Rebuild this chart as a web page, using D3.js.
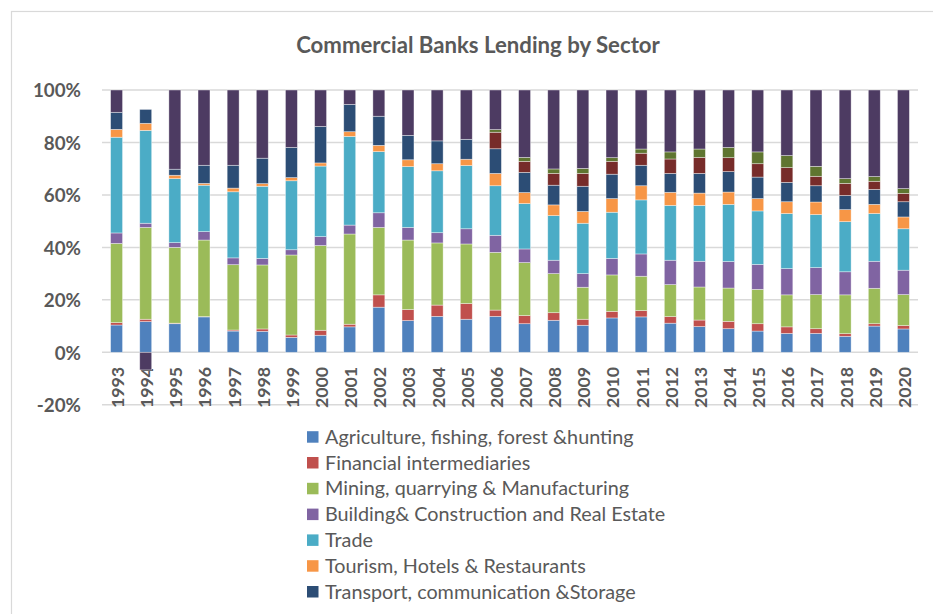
<!DOCTYPE html>
<html>
<head>
<meta charset="utf-8">
<script src="https://cdn.jsdelivr.net/npm/d3@7"></script>
<style>
  html, body { margin: 0; padding: 0; background: #fff; overflow: hidden; }
  svg { display: block; font-family: Lato, "Open Sans", sans-serif; }
</style>
</head>
<body>
<svg id="chart" width="933" height="614"></svg>
<script>
// Commercial bank lending shares by sector, percent of total, 1993-2020
const years = ["1993","1994","1995","1996","1997","1998","1999","2000","2001","2002",
  "2003","2004","2005","2006","2007","2008","2009","2010","2011","2012",
  "2013","2014","2015","2016","2017","2018","2019","2020"];

const agriculture = [10.4,11.7,10.9,13.5,8.1,8.0,5.7,6.5,9.7,17.2,12.1,13.7,12.6,13.7,10.9,12.2,10.3,13.1,13.5,11.1,9.8,9.0,8.1,7.2,7.2,6.1,10.0,8.9];
const financial   = [0.9,0.9,0.2,0.1,0.4,0.9,0.9,1.9,1.0,4.7,4.2,4.3,6.0,2.4,3.1,2.9,2.3,2.5,2.4,2.5,2.5,2.8,2.8,2.5,1.8,1.0,0.9,1.3];
const mining      = [30.2,35.0,28.9,29.2,24.9,24.4,30.5,32.3,34.4,25.7,26.5,23.7,22.7,22.0,20.2,14.9,12.2,13.9,13.1,12.2,12.6,12.7,13.1,12.2,13.0,14.8,13.5,11.8];
const building    = [4.0,1.6,1.8,3.2,2.6,2.5,2.0,3.4,3.4,5.6,4.8,3.9,5.8,6.5,5.2,5.1,5.2,6.3,8.5,9.3,9.8,10.1,9.5,10.0,10.3,8.8,10.3,9.3];
const trade       = [36.5,35.4,24.4,17.7,25.2,27.5,26.3,26.9,33.8,23.3,23.2,23.6,24.1,18.9,17.3,17.0,19.2,17.6,20.6,20.9,21.3,21.8,20.4,21.0,20.2,19.1,18.2,15.8];
const tourism     = [3.0,2.7,1.3,0.7,1.4,1.0,1.2,1.2,1.8,2.4,2.6,2.7,2.4,4.7,4.2,4.1,4.5,5.2,5.4,5.0,4.7,4.7,4.7,4.5,4.8,4.6,3.5,4.5];
const transport   = [6.5,5.3,2.3,6.9,8.7,9.7,11.5,13.9,10.4,11.1,9.3,8.7,7.6,9.4,7.7,7.5,9.6,9.3,7.8,7.2,7.5,7.8,8.2,7.4,6.2,5.4,5.7,5.8];
const electricity = [0,0,0,0,0,0,0,0,0,0,0,0,0,6.3,4.2,4.5,4.9,4.9,4.6,5.5,6.1,5.3,5.1,5.6,3.6,4.6,3.1,3.2];
const services    = [0,0,0,0,0,0,0,0,0,0,0,0,0,1.0,1.5,1.7,1.9,1.4,1.6,2.7,3.2,3.9,4.5,4.6,3.8,1.8,1.8,1.8];
const others      = [8.5,-6.7,30.2,28.7,28.7,26.0,21.9,13.9,5.5,10.0,17.3,19.4,18.8,15.1,25.7,30.1,29.9,25.8,22.5,23.6,22.5,21.9,23.6,25.0,29.1,33.8,33.0,37.6];

const seriesNames = [
  "Agriculture, fishing, forest &hunting",
  "Financial intermediaries",
  "Mining, quarrying & Manufacturing",
  "Building& Construction and Real Estate",
  "Trade",
  "Tourism, Hotels & Restaurants",
  "Transport, communication &Storage",
  "Electricity, gas & water",
  "Other services",
  "Personal & other loans"
];
const seriesValues = [agriculture, financial, mining, building, trade, tourism, transport, electricity, services, others];
const seriesColors = ["#4F81BD","#C0504D","#9BBB59","#8064A2","#4BACC6","#F79646","#2C4D75","#772C2A","#5F7530","#4D3B62"];

const yTicks = [-20, 0, 20, 40, 60, 80, 100];

const W = 933, H = 614;
const svg = d3.select("#chart");
const textColor = "#595959";
const gridColor = "#D9D9D9";

// chart area frame
svg.append("rect")
  .attr("x", 11.5).attr("y", 11.5)
  .attr("width", 960).attr("height", 640)
  .attr("fill", "none").attr("stroke", gridColor).attr("stroke-width", 1.2);

const plot = { left: 102, right: 918, top: 90, zero: 352.3 };

const y = d3.scaleLinear().domain([0, 100]).range([plot.zero, plot.top]);
const x = d3.scaleBand().domain(years).range([plot.left, plot.right])
  .paddingInner(0.59).paddingOuter(0.295);

// table of rows for d3.stack
const table = years.map((yr, i) => {
  const row = { year: yr };
  seriesNames.forEach((name, k) => { row[name] = seriesValues[k][i]; });
  return row;
});

const stacked = d3.stack().keys(seriesNames)
  .order(d3.stackOrderNone)
  .offset(d3.stackOffsetDiverging)(table);

// title
svg.append("text")
  .attr("x", 478).attr("y", 52.5)
  .attr("text-anchor", "middle")
  .attr("fill", textColor)
  .attr("font-size", 22.2).attr("font-weight", 700)
  .text("Commercial Banks Lending by Sector");

// gridlines
svg.append("g").selectAll("line")
  .data(yTicks).join("line")
  .attr("x1", plot.left).attr("x2", plot.right)
  .attr("y1", d => y(d)).attr("y2", d => y(d))
  .attr("stroke", gridColor).attr("stroke-width", 1.5);

// y axis labels
const yAxis = d3.axisLeft(y).tickValues(yTicks).tickSize(0).tickPadding(0)
  .tickFormat(d => d + "%");
svg.append("g")
  .attr("transform", `translate(81,0)`)
  .call(yAxis)
  .call(g => g.select(".domain").remove())
  .call(g => g.selectAll("text")
    .attr("fill", textColor)
    .attr("font-family", "Lato, sans-serif")
    .attr("font-size", 18.8).attr("font-weight", 700)
    .attr("dy", "0.36em"));

// x axis labels, rotated
const xAxis = d3.axisBottom(x).tickSize(0).tickPadding(0);
svg.append("g")
  .attr("transform", `translate(0,${plot.zero})`)
  .call(xAxis)
  .call(g => g.select(".domain").remove())
  .call(g => g.selectAll("text")
    .attr("fill", textColor)
    .attr("font-family", "Lato, sans-serif")
    .attr("font-size", 17.8).attr("font-weight", 700)
    .attr("text-anchor", "end")
    .attr("transform", "translate(1,14.5) rotate(-90)")
    .attr("x", 0).attr("y", 0)
    .attr("dy", "0.36em"));

// stacked bars
svg.append("g").selectAll("g")
  .data(stacked).join("g")
  .attr("fill", (d, i) => seriesColors[i])
  .selectAll("rect")
  .data(d => d.filter(s => s[1] !== s[0]))
  .join("rect")
  .attr("x", d => x(d.data.year))
  .attr("width", x.bandwidth())
  .attr("y", d => y(Math.max(d[0], d[1])))
  .attr("height", d => Math.abs(y(d[0]) - y(d[1])))
  .attr("stroke", "rgba(255,255,255,0.55)")
  .attr("stroke-width", 0.7);

// legend: rows continue downward; only the rows that fit the frame are drawn
const legendTop = 436.7, rowStep = 25.8;
const legendItems = seriesNames
  .map((name, i) => ({ name, color: seriesColors[i], cy: legendTop + i * rowStep }))
  .filter(d => d.cy + 12 <= H);

const legend = svg.append("g").attr("transform", "translate(307,0)");
const item = legend.selectAll("g")
  .data(legendItems).join("g")
  .attr("transform", d => `translate(0,${d.cy})`);
item.append("rect")
  .attr("x", 0).attr("y", -5.5)
  .attr("width", 11.5).attr("height", 11.5)
  .attr("fill", d => d.color);
item.append("text")
  .attr("x", 18).attr("y", 0).attr("dy", "0.36em")
  .attr("fill", textColor)
  .attr("font-size", 19.8)
  .text(d => d.name);
</script>
</body>
</html>
